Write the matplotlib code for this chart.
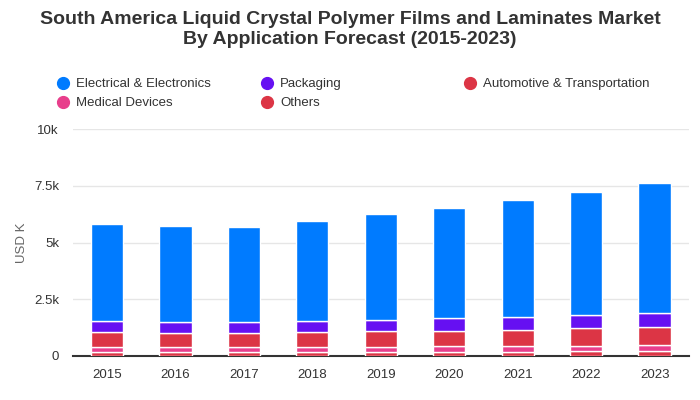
import numpy as np
import matplotlib.pyplot as plt
from matplotlib.lines import Line2D
from matplotlib.ticker import FuncFormatter

plt.rcParams['font.family'] = ['Liberation Sans', 'DejaVu Sans']

years = ['2015', '2016', '2017', '2018', '2019', '2020', '2021', '2022', '2023']
# USD K
electrical = [4280, 4250, 4200, 4420, 4690, 4860, 5170, 5430, 5740]
packaging = [490, 480, 480, 490, 480, 570, 570, 570, 620]
automotive = [660, 620, 620, 660, 710, 660, 690, 780, 780]
medical = [190, 190, 190, 190, 190, 240, 250, 210, 250]
others = [190, 190, 190, 190, 190, 190, 190, 230, 230]

names = ['Electrical & Electronics', 'Packaging', 'Automotive & Transportation',
         'Medical Devices', 'Others']
colors = ['#007bff', '#6610f2', '#dc3545', '#e83e8c', '#dc3545']
series = [electrical, packaging, automotive, medical, others]

fig = plt.figure(figsize=(7, 4), dpi=100)
ax = fig.add_axes([0.104, 0.11, 0.88, 0.5675])

x = np.arange(len(years))
bottom = np.zeros(len(years))
# highcharts stacks the last series at the bottom
for vals, col in zip(series[::-1], colors[::-1]):
    ax.bar(x, vals, 0.47, bottom=bottom, color=col, edgecolor='white', linewidth=1, zorder=3)
    bottom += np.array(vals)

ax.set_xlim(-0.5, 8.5)
ax.set_ylim(0, 10000)
ax.set_yticks([0, 2500, 5000, 7500, 10000])
ax.yaxis.set_major_formatter(FuncFormatter(lambda v, p: '0' if v == 0 else f'{v/1000:g}k'))
ax.set_xticks(x)
ax.set_xticklabels(years)
ax.tick_params(axis='both', length=0, labelsize=9.5, colors='#333333')
ax.tick_params(axis='x', pad=9)
ax.tick_params(axis='y', pad=10)
ax.grid(axis='y', color='#e6e6e6', linewidth=1, zorder=0)
for s in ['top', 'right', 'left']:
    ax.spines[s].set_visible(False)
ax.spines['bottom'].set_color('#333333')
ax.spines['bottom'].set_linewidth(1.5)
ax.set_ylabel('USD K', color='#666666', fontsize=9.5, labelpad=4)

fig.text(0.5, 0.972, 'South America Liquid Crystal Polymer Films and Laminates Market\nBy Application Forecast (2015-2023)',
         ha='center', va='top', fontsize=14, fontweight='bold', color='#333333', linespacing=1.2)

# legend, filled row by row
leg_x = [63, 267, 470]
leg_y = [83, 102]
for i, (name, col) in enumerate(zip(names, colors)):
    px = leg_x[i % 3] / 700
    py = 1 - leg_y[i // 3] / 400
    fig.add_artist(Line2D([px], [py], marker='o', markersize=8.5, color=col, linestyle='none',
                          transform=fig.transFigure))
    fig.text(px + 13 / 700, py - 1 / 400, name, va='center', ha='left', fontsize=9.5, color='#333333')

fig.savefig('out.png', dpi=100)
